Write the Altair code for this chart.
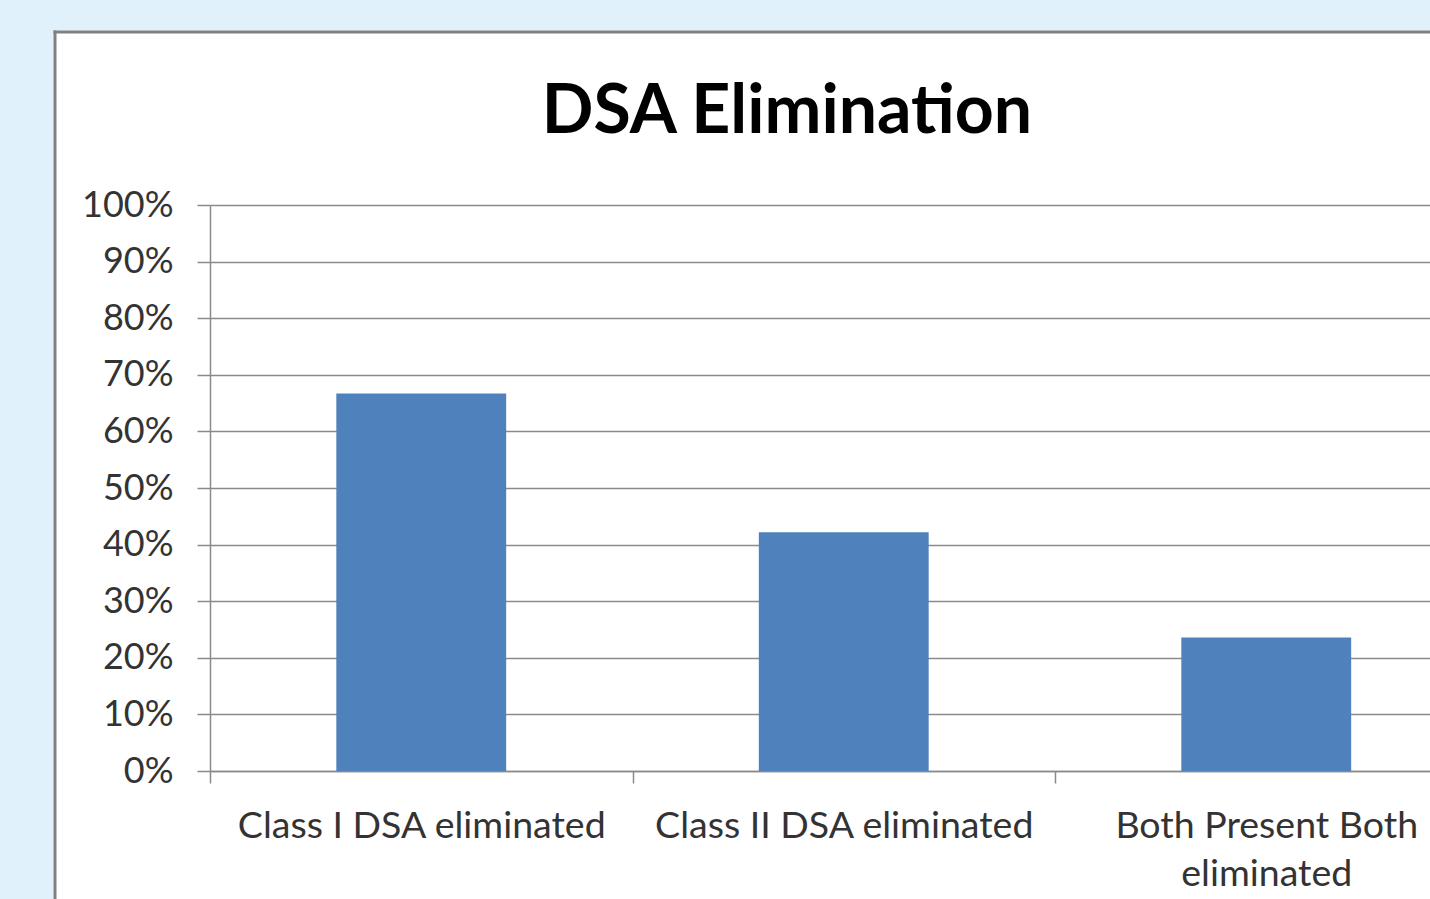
import altair as alt
import pandas as pd

categories = ["Class I DSA eliminated", "Class II DSA eliminated", "Both Present Both eliminated"]
values = [0.667, 0.422, 0.236]
y_ticks = [0, 0.1, 0.2, 0.3, 0.4, 0.5, 0.6, 0.7, 0.8, 0.9, 1.0]
title_text = "DSA Elimination"

df = pd.DataFrame({"category": categories, "value": values})

FONT = "Lato"
GRID = "#8a8a8a"
BLUE_BG = "#e0f1fb"
one = alt.Data(values=[{}])

left_strip = alt.Chart(one).mark_rect(fill=BLUE_BG).encode(
    x=alt.value(-215), x2=alt.value(-156.5), y=alt.value(-210), y2=alt.value(700)
)
top_strip = alt.Chart(one).mark_rect(fill=BLUE_BG).encode(
    x=alt.value(-215), x2=alt.value(1230), y=alt.value(-210), y2=alt.value(-174.5)
)
border_v = alt.Chart(one).mark_rule(color="#808080", strokeWidth=3).encode(
    x=alt.value(-155), y=alt.value(-174.5), y2=alt.value(700)
)
border_h = alt.Chart(one).mark_rule(color="#808080", strokeWidth=3).encode(
    y=alt.value(-173), x=alt.value(-156.5), x2=alt.value(1230)
)

bars = alt.Chart(df).mark_bar(color="#4f81bd", width={"band": 0.402}).encode(
    x=alt.X(
        "category:N",
        sort=categories,
        scale=alt.Scale(range=[0, 1267.5], paddingInner=0, paddingOuter=0),
        axis=alt.Axis(
            title=None,
            labelAngle=0,
            tickBand="extent",
            tickSize=12,
            tickColor=GRID,
            tickWidth=1.5,
            domainColor=GRID,
            domainWidth=1.5,
            labelFont=FONT,
            labelFontSize=37.5,
            labelColor="#333333",
            labelPadding=24,
            labelLimit=0,
            labelLineHeight=48,
            labelExpr="datum.label == 'Both Present Both eliminated' ? ['Both Present Both', 'eliminated'] : datum.label",
        ),
    ),
    y=alt.Y(
        "value:Q",
        scale=alt.Scale(domain=[0, 1], nice=False),
        axis=alt.Axis(
            title=None,
            values=y_ticks,
            format=".0%",
            grid=True,
            gridColor=GRID,
            gridWidth=1.5,
            tickSize=13,
            tickColor=GRID,
            tickWidth=1.5,
            domainColor=GRID,
            domainWidth=1.5,
            labelFont=FONT,
            labelFontSize=36,
            labelColor="#333333",
            labelPadding=24,
        ),
    ),
)

title = alt.Chart(alt.Data(values=[{"t": title_text}])).mark_text(
    font=FONT, fontSize=68, fontWeight="bold", color="black", align="center", baseline="alphabetic"
).encode(
    x=alt.value(577), y=alt.value(-72), text="t:N"
)

chart = alt.layer(bars, left_strip, top_strip, border_v, border_h, title).properties(
    width=1220,
    height=566,
    background="white",
    padding={"left": 210, "top": 205, "right": 0, "bottom": 128},
    autosize=alt.AutoSizeParams(type="none"),
).configure_view(stroke=None)

chart.save("out.html", embed_options={"renderer": "svg", "actions": False})
